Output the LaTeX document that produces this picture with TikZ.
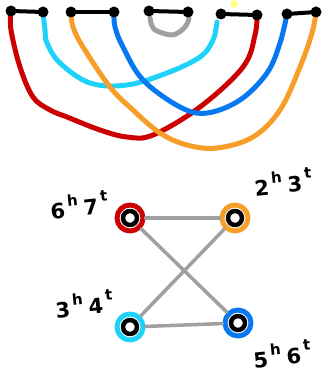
\documentclass[tikz,border=0pt]{standalone}
\usepackage{fontspec}
\setmainfont{DejaVu Sans}
\definecolor{cred}{RGB}{204,0,0}
\definecolor{ccyan}{RGB}{30,210,250}
\definecolor{corange}{RGB}{246,158,40}
\definecolor{cblue}{RGB}{8,120,240}
\definecolor{cgray}{RGB}{160,160,160}
\definecolor{cyellow}{RGB}{255,255,140}
\newcommand\htlab[2]{#1\kern3pt\raisebox{0.55em}{\fontsize{15}{15}\selectfont h}\kern5pt #2\kern3pt\raisebox{0.6em}{\fontsize{15}{15}\selectfont t}}
\begin{document}
\begin{tikzpicture}[x=1pt,y=-1pt, line cap=round, line join=round,
  arcline/.style={line width=5pt},
  bar/.style={line width=4pt, draw=black},
  dot/.style={circle, fill=black, inner sep=0pt, minimum size=11pt},
  edgeline/.style={line width=3.5pt, draw=cgray},
  ring/.style={circle, draw=#1, line width=5pt, minimum size=26pt, inner sep=0pt, fill=white},
  core/.style={circle, draw=black, line width=4.5pt, fill=white, minimum size=14pt, inner sep=0pt},
  lbl/.style={font=\fontsize{21}{21}\selectfont\bfseries, text=black, inner sep=0pt}]
\useasboundingbox (0,0) rectangle (321,379);
% top dots as coordinates
\coordinate (a1) at (11,11);
\coordinate (b1) at (43,12);
\coordinate (a2) at (71,12);
\coordinate (b2) at (114,12);
\coordinate (a3) at (149,11);
\coordinate (b3) at (188,12);
\coordinate (a4) at (221,14);
\coordinate (b4) at (257,15);
\coordinate (a5) at (287,14);
\coordinate (b5) at (316,12);
% arcs
\draw[arcline, cred] plot[smooth, tension=0.6] coordinates {(a1) (11,30) (20,67) (33,97) (50,110) (67,117) (100,130) (127,137) (153,135) (200,107) (243,67) (255,35) (b4)};
\draw[arcline, ccyan] plot[smooth, tension=0.6] coordinates {(b1) (45,30) (47,43) (60,63) (90,83) (127,85) (167,73) (200,57) (213,40) (217,22)};
\draw[arcline, corange] plot[smooth, tension=0.6] coordinates {(a2) (73,27) (83,47) (110,87) (133,110) (160,133) (187,145) (217,148) (253,137) (280,110) (300,67) (312,33) (b5)};
\draw[arcline, cblue] plot[smooth, tension=0.6] coordinates {(b2) (115,27) (123,47) (143,80) (180,107) (207,113) (240,100) (267,73) (280,43) (a5)};
\draw[arcline, cgray] plot[smooth, tension=0.6] coordinates {(150,18) (152,26) (157,31) (172,35) (182,30) (187,24) (189,18)};
% bars and dots
\draw[bar] (a1) -- (b1);
\draw[bar] (a2) -- (b2);
\draw[bar] (a3) -- (b3);
\draw[bar] (a4) -- (b4);
\draw[bar] (a5) -- (b5);
\foreach \p in {a1,b1,a2,b2,a3,b3,a4,b4,a5,b5} \node[dot] (d\p) at (\p) {};
\node[circle, fill=cyellow, inner sep=0pt, minimum size=8pt] (ylw) at (234,4) {};
% bottom graph
\node[ring=cred] (r) at (130,218) {};
\node[ring=corange] (o) at (235,218) {};
\node[ring=ccyan] (c) at (130,327) {};
\node[ring=cblue] (bl) at (238,323) {};
\node[core] (rc) at (r) {};
\node[core] (oc) at (o) {};
\node[core] (cc) at (c) {};
\node[core] (bc) at (bl) {};
\draw[edgeline] (r) -- (o);
\draw[edgeline] (c) -- (bl);
\draw[edgeline] (r) -- (bl);
\draw[edgeline] (o) -- (c);
% labels
\node[lbl, rotate=6] (l1) at (79,205) {\htlab{6}{7}};
\node[lbl, rotate=6] (l2) at (283,182) {\htlab{2}{3}};
\node[lbl, rotate=6] (l3) at (84,304) {\htlab{3}{4}};
\node[lbl, rotate=6] (l4) at (282,354) {\htlab{5}{6}};
\end{tikzpicture}
\end{document}
